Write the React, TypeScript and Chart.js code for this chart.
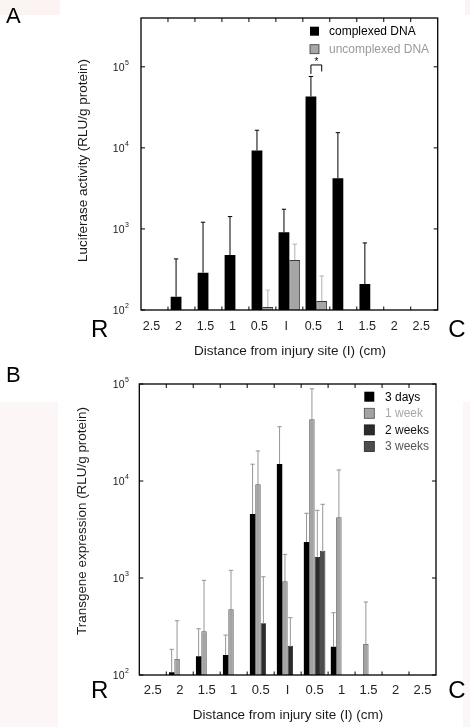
import React, { useEffect, useRef } from "react";
import { Chart, registerables } from "chart.js";

Chart.register(...registerables);

// ---------- DATA ----------
const distanceLabels = ["2.5", "2", "1.5", "1", "0.5", "I", "0.5", "1", "1.5", "2", "2.5"];
const yTickExponents = [2, 3, 4, 5];

// Panel A: Luciferase activity (mean and mean+SD)
const complexedDNA = [null, 146, 289, 477, 9300, 910, 43000, 4230, 209, null, null];
const complexedDNAErr = [null, 427, 1210, 1420, 16500, 1750, 76000, 15400, 672, null, null];
const uncomplexedDNA = [null, null, null, null, 109, 414, 129, null, null, null, null];
const uncomplexedDNAErr = [null, null, null, null, 176, 647, 263, null, null, null, null];

// Panel B: Transgene expression over time (mean and mean+SD)
const days3 = [null, 107, 156, 161, 4570, 14960, 2350, 196, null, null, null];
const days3Err = [null, 184, 300, 258, 14900, 36300, 4650, 439, null, null, null];
const week1 = [null, 146, 282, 476, 9250, 925, 43300, 4230, 209, null, null];
const week1Err = [null, 363, 946, 1200, 20400, 1750, 89300, 13000, 566, null, null];
const weeks2 = [null, null, null, null, 341, 200, 1650, null, null, null, null];
const weeks2Err = [null, null, null, null, 1030, 390, 4990, null, null, null, null];
const weeks3 = [null, null, null, null, null, null, 1910, null, null, null, null];
const weeks3Err = [null, null, null, null, null, null, 5750, null, null, null, null];

const FONT = '"Liberation Sans", Arial, Helvetica, sans-serif';

type Series = {
  label: string;
  data: (number | null)[];
  err: (number | null)[];
  color: string;
  border: string;
  borderWidth: number;
  errColor: string;
  errWidth: number;
  textColor: string;
};

type PanelSpec = {
  top: number;
  width: number;
  height: number;
  pad: { left: number; right: number; top: number; bottom: number };
  yMax: number;
  series: Series[];
  letter: string;
  letterY: number;
  yTitle: string;
  yTitlePos: [number, number, number];
  xTitle: string;
  xTitlePos: [number, number, number];
  xLabelY: number;
  xLabelShift: number;
  xLabelSize: number;
  rcY: number;
  legend: { x: number; y: number; size: number; textX: number; gap: number; fontSize: number };
  star?: { cat: number; a: number; b: number };
};

function fitFont(ctx: CanvasRenderingContext2D, text: string, width: number, weight = "normal") {
  ctx.font = `${weight} 20px ${FONT}`;
  const w = ctx.measureText(text).width;
  const size = (20 * width) / w;
  ctx.font = `${weight} ${size}px ${FONT}`;
  return size;
}

function makePlugin(spec: PanelSpec) {
  return {
    id: "panelDecor" + spec.letter,
    afterDatasetsDraw(chart: any) {
      const ctx: CanvasRenderingContext2D = chart.ctx;
      const yScale = chart.scales.y;
      ctx.save();
      spec.series.forEach((s, d) => {
        const meta = chart.getDatasetMeta(d);
        s.err.forEach((e, i) => {
          if (e == null || s.data[i] == null) return;
          const bar = meta.data[i];
          const x = bar.x;
          const y0 = bar.y;
          const y1 = yScale.getPixelForValue(e);
          ctx.strokeStyle = s.errColor;
          ctx.lineWidth = s.errWidth;
          ctx.beginPath();
          ctx.moveTo(x, y0);
          ctx.lineTo(x, y1);
          ctx.moveTo(x - 2.2, y1);
          ctx.lineTo(x + 2.2, y1);
          ctx.stroke();
        });
      });
      ctx.restore();
    },
    afterDraw(chart: any) {
      const ctx: CanvasRenderingContext2D = chart.ctx;
      const a = chart.chartArea;
      const xs = chart.scales.x;
      const ys = chart.scales.y;
      ctx.save();
      // frame
      ctx.strokeStyle = "#000";
      ctx.lineWidth = 1.3;
      ctx.strokeRect(a.left, a.top, a.right - a.left, a.bottom - a.top);
      // y ticks (inward, both sides)
      ctx.lineWidth = 1;
      yTickExponents.forEach((k) => {
        const y = ys.getPixelForValue(Math.pow(10, k));
        ctx.beginPath();
        ctx.moveTo(a.left, y);
        ctx.lineTo(a.left + 4, y);
        ctx.moveTo(a.right, y);
        ctx.lineTo(a.right - 4, y);
        ctx.stroke();
      });
      // x ticks at category boundaries (inward, top & bottom)
      for (let i = 1; i < distanceLabels.length; i++) {
        const x = (xs.getPixelForValue(i - 1) + xs.getPixelForValue(i)) / 2;
        ctx.beginPath();
        ctx.moveTo(x, a.top);
        ctx.lineTo(x, a.top + 4);
        ctx.moveTo(x, a.bottom);
        ctx.lineTo(x, a.bottom - 3.5);
        ctx.stroke();
      }
      // y tick labels 10^k
      ctx.fillStyle = "#1a1a1a";
      yTickExponents.forEach((k) => {
        const y = ys.getPixelForValue(Math.pow(10, k));
        ctx.font = `10.5px ${FONT}`;
        ctx.textAlign = "right";
        ctx.textBaseline = "middle";
        ctx.fillText("10", 124.5, y + 1.3);
        ctx.font = `7px ${FONT}`;
        ctx.textAlign = "left";
        ctx.fillText(String(k), 125, y - 3.8);
      });
      // x tick labels
      ctx.fillStyle = "#222";
      ctx.font = `${spec.xLabelSize}px ${FONT}`;
      ctx.textAlign = "center";
      ctx.textBaseline = "middle";
      distanceLabels.forEach((lab, i) => {
        ctx.fillText(lab, xs.getPixelForValue(i) + spec.xLabelShift, spec.xLabelY);
      });
      // R / C
      ctx.fillStyle = "#000";
      ctx.font = `24px ${FONT}`;
      ctx.fillText("R", 99.7, spec.rcY);
      ctx.fillText("C", 457, spec.rcY);
      // panel letter
      ctx.textAlign = "left";
      ctx.font = `22px ${FONT}`;
      ctx.fillText(spec.letter, 6, spec.letterY);
      // x title
      ctx.fillStyle = "#1a1a1a";
      fitFont(ctx, spec.xTitle, spec.xTitlePos[2]);
      ctx.textAlign = "center";
      ctx.fillText(spec.xTitle, spec.xTitlePos[0], spec.xTitlePos[1]);
      // y title
      ctx.save();
      ctx.translate(spec.yTitlePos[0], spec.yTitlePos[1]);
      ctx.rotate(-Math.PI / 2);
      fitFont(ctx, spec.yTitle, spec.yTitlePos[2]);
      ctx.fillText(spec.yTitle, 0, 0);
      ctx.restore();
      // legend
      const L = spec.legend;
      spec.series.forEach((s, i) => {
        const yTop = L.y + i * L.gap;
        ctx.fillStyle = s.color;
        ctx.fillRect(L.x, yTop, L.size, L.size);
        if (s.borderWidth > 0) {
          ctx.strokeStyle = s.border;
          ctx.lineWidth = 0.8;
          ctx.strokeRect(L.x, yTop, L.size, L.size);
        }
        ctx.fillStyle = s.textColor;
        ctx.font = `${L.fontSize}px ${FONT}`;
        ctx.textAlign = "left";
        ctx.textBaseline = "middle";
        ctx.fillText(s.label, L.textX, yTop + L.size / 2 + 0.5);
      });
      // significance bracket
      if (spec.star) {
        const st = spec.star;
        const m0 = chart.getDatasetMeta(st.a).data[st.cat];
        const m1 = chart.getDatasetMeta(st.b).data[st.cat];
        const x0 = m0.x;
        const x1 = m1.x;
        const yb = ys.getPixelForValue(spec.series[st.a].err[st.cat] as number) - 2.5;
        const yt = yb - 9;
        ctx.strokeStyle = "#000";
        ctx.lineWidth = 1;
        ctx.beginPath();
        ctx.moveTo(x0, yb);
        ctx.lineTo(x0, yt);
        ctx.lineTo(x1, yt);
        ctx.lineTo(x1, yt + 6.5);
        ctx.stroke();
        ctx.fillStyle = "#000";
        ctx.font = `10px ${FONT}`;
        ctx.textAlign = "center";
        ctx.textBaseline = "middle";
        ctx.fillText("*", (x0 + x1) / 2, yt - 3);
      }
      ctx.restore();
    },
  };
}

function Panel({ spec }: { spec: PanelSpec }) {
  const ref = useRef<HTMLCanvasElement | null>(null);
  useEffect(() => {
    if (!ref.current) return;
    const chart = new Chart(ref.current, {
      type: "bar",
      data: {
        labels: distanceLabels,
        datasets: spec.series.map((s) => ({
          label: s.label,
          data: s.data as any,
          backgroundColor: s.color,
          borderColor: s.border,
          borderWidth: s.borderWidth,
          categoryPercentage: 0.8,
          barPercentage: 1.0,
        })),
      },
      options: {
        animation: false,
        responsive: false,
        maintainAspectRatio: false,
        devicePixelRatio: 1,
        layout: { padding: spec.pad },
        plugins: { legend: { display: false }, tooltip: { enabled: false }, title: { display: false } },
        scales: {
          x: { type: "category", display: false, offset: true },
          y: { type: "logarithmic", display: false, min: 100, max: spec.yMax },
        },
      },
      plugins: [makePlugin(spec) as any],
    });
    return () => chart.destroy();
  }, []);
  return (
    <canvas
      ref={ref}
      width={spec.width}
      height={spec.height}
      style={{ position: "absolute", left: 0, top: spec.top, width: spec.width, height: spec.height }}
    />
  );
}

const panelA: PanelSpec = {
  top: 0,
  width: 470,
  height: 360,
  pad: { left: 141, right: 470 - 437.7, top: 18, bottom: 360 - 310 },
  yMax: 400000,
  series: [
    { label: "complexed DNA", data: complexedDNA, err: complexedDNAErr, color: "#000000", border: "#000000", borderWidth: 0, errColor: "#000000", errWidth: 1, textColor: "#000000" },
    { label: "uncomplexed DNA", data: uncomplexedDNA, err: uncomplexedDNAErr, color: "#a6a6a6", border: "#3a3a3a", borderWidth: 1, errColor: "#c8c8c8", errWidth: 1.4, textColor: "#9a9a9a" },
  ],
  letter: "A",
  letterY: 17,
  yTitle: "Luciferase activity (RLU/g protein)",
  yTitlePos: [83, 160.5, 203],
  xTitle: "Distance from injury site (I) (cm)",
  xTitlePos: [290, 351, 192],
  xLabelY: 327,
  xLabelShift: -3,
  xLabelSize: 12.5,
  rcY: 330,
  legend: { x: 310, y: 26.7, size: 9, textX: 329, gap: 18, fontSize: 12 },
  star: { cat: 6, a: 0, b: 1 },
};

const panelB: PanelSpec = {
  top: 360,
  width: 470,
  height: 367,
  pad: { left: 139.3, right: 470 - 436, top: 24, bottom: 367 - 315 },
  yMax: 100000,
  series: [
    { label: "3 days", data: days3, err: days3Err, color: "#000000", border: "#000000", borderWidth: 0, errColor: "#8a8a8a", errWidth: 0.9, textColor: "#000000" },
    { label: "1 week", data: week1, err: week1Err, color: "#a3a3a3", border: "#4a4a4a", borderWidth: 0.8, errColor: "#8a8a8a", errWidth: 0.9, textColor: "#a8a8a8" },
    { label: "2 weeks", data: weeks2, err: weeks2Err, color: "#2b2b2b", border: "#111111", borderWidth: 0.8, errColor: "#8a8a8a", errWidth: 0.9, textColor: "#111111" },
    { label: "3 weeks", data: weeks3, err: weeks3Err, color: "#4d4d4d", border: "#222222", borderWidth: 0.8, errColor: "#8a8a8a", errWidth: 0.9, textColor: "#555555" },
  ],
  letter: "B",
  letterY: 15.5,
  yTitle: "Transgene expression (RLU/g protein)",
  yTitlePos: [82, 161, 228],
  xTitle: "Distance from injury site (I) (cm)",
  xTitlePos: [288, 355.3, 190.6],
  xLabelY: 330,
  xLabelShift: 0,
  xLabelSize: 13,
  rcY: 331.5,
  legend: { x: 364.3, y: 31.7, size: 10, textX: 385, gap: 16.6, fontSize: 12 },
};

export default function App() {
  return (
    <div style={{ position: "absolute", left: 0, top: 0, width: 470, height: 727, background: "#ffffff", overflow: "hidden" }}>
      <div style={{ position: "absolute", left: 0, top: 0, width: 60, height: 15, background: "#fcf3f3" }} />
      <div style={{ position: "absolute", left: 465, top: 0, width: 5, height: 15, background: "#fcf3f3" }} />
      <div style={{ position: "absolute", left: 0, top: 402, width: 58, height: 325, background: "#fcf6f6" }} />
      <div style={{ position: "absolute", left: 463, top: 402, width: 7, height: 325, background: "#fcf6f6" }} />
      <Panel spec={panelA} />
      <Panel spec={panelB} />
    </div>
  );
}
